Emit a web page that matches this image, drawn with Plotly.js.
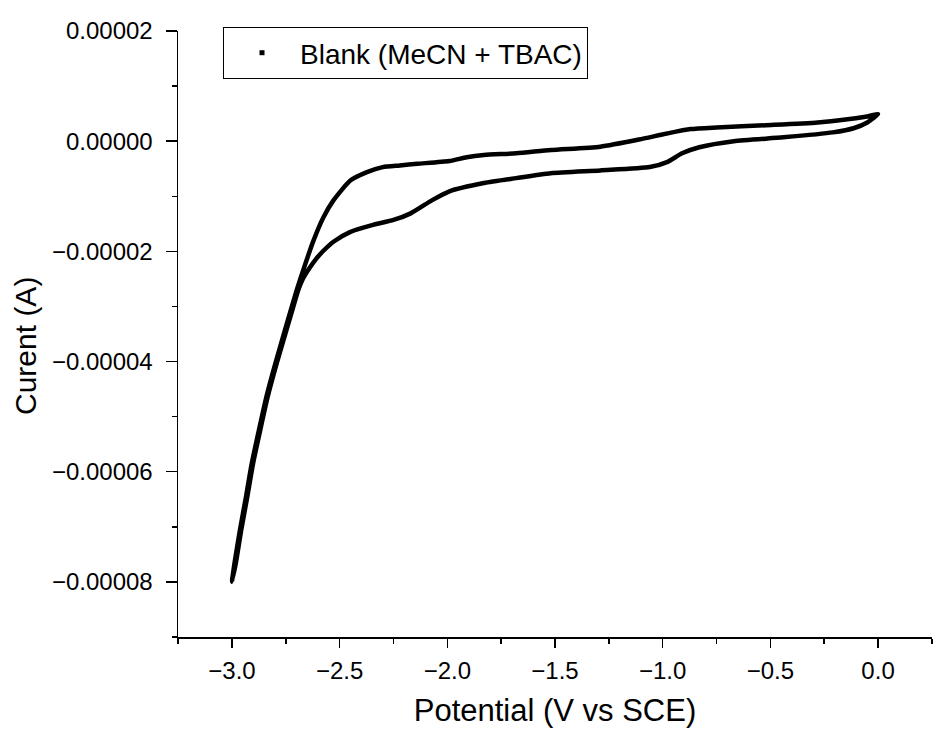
<!DOCTYPE html>
<html>
<head>
<meta charset="utf-8">
<script src="https://cdn.plot.ly/plotly-3.0.1.min.js"></script>
<style>html,body{margin:0;padding:0;background:#fff;}#chart{width:937px;height:742px;}</style>
</head>
<body>
<div id="chart"></div>
<script>
// Cathodic sweep (0 V -> -3 V), potential in V vs SCE
const cathodicV = [0.0, -0.05, -0.28, -0.52, -0.75, -0.87, -0.98, -1.11, -1.29, -1.52, -1.68, -1.83, -1.91, -1.99, -2.14, -2.22, -2.30, -2.373, -2.449, -2.528, -2.575, -2.621, -2.669, -2.699, -2.754, -2.798, -2.840, -2.875, -2.908, -2.935, -2.963, -2.988, -3.0];
// Current in A
const cathodicI = [4.9e-6, 4.5e-6, 3.4e-6, 2.9e-6, 2.5e-6, 2.2e-6, 1.4e-6, 0.3e-6, -1.0e-6, -1.6e-6, -2.2e-6, -2.5e-6, -2.9e-6, -3.6e-6, -4.1e-6, -4.4e-6, -4.7e-6, -5.6e-6, -7.1e-6, -10.7e-6, -13.8e-6, -18.0e-6, -23.4e-6, -27.0e-6, -34.3e-6, -40.3e-6, -46.4e-6, -52.5e-6, -58.5e-6, -64.6e-6, -70.6e-6, -76.6e-6, -80.0e-6];
// Anodic sweep (-3 V -> 0 V)
const anodicV = [-2.982, -2.957, -2.929, -2.902, -2.869, -2.834, -2.792, -2.747, -2.717, -2.692, -2.671, -2.643, -2.610, -2.573, -2.527, -2.452, -2.345, -2.25, -2.17, -2.07, -1.99, -1.83, -1.68, -1.52, -1.29, -1.06, -0.98, -0.91, -0.83, -0.67, -0.44, -0.21, -0.11, -0.05, 0.0];
const anodicI = [-76.6e-6, -70.6e-6, -64.6e-6, -58.5e-6, -52.5e-6, -46.4e-6, -40.3e-6, -34.3e-6, -30.3e-6, -27.0e-6, -25.0e-6, -23.2e-6, -21.4e-6, -19.8e-6, -18.2e-6, -16.5e-6, -15.2e-6, -14.3e-6, -13.1e-6, -10.7e-6, -9.1e-6, -7.6e-6, -6.7e-6, -5.8e-6, -5.3e-6, -4.7e-6, -3.8e-6, -2.2e-6, -1.1e-6, 0.0, 0.7e-6, 1.6e-6, 2.4e-6, 3.4e-6, 4.9e-6];

const seriesName = 'Blank (MeCN + TBAC)';
const xTitle = 'Potential (V vs SCE)';
const yTitle = 'Curent (A)';

const FONT = 'Liberation Sans, Arial, sans-serif';

const traces = [
  {
    x: cathodicV.concat(anodicV),
    y: cathodicI.concat(anodicI),
    mode: 'lines',
    line: {color: '#000', width: 4.5, shape: 'spline', smoothing: 0.6},
    showlegend: false,
    hoverinfo: 'skip'
  },
  {
    x: [null], y: [null],
    mode: 'markers',
    marker: {symbol: 'square', size: 5, color: '#000'},
    name: seriesName,
    showlegend: true
  }
];

const layout = {
  width: 937, height: 742,
  margin: {l: 178, r: 5, t: 31, b: 105},
  paper_bgcolor: '#fff', plot_bgcolor: '#fff',
  font: {family: FONT, color: '#000'},
  showlegend: true,
  legend: {
    x: 0.0597, y: 1.0066, xanchor: 'left', yanchor: 'top',
    bordercolor: '#000', borderwidth: 1, bgcolor: '#fff',
    font: {family: FONT, size: 28, color: '#000'},
    itemwidth: 66
  },
  xaxis: {
    range: [-3.2505, 0.2505],
    showgrid: false, zeroline: false,
    showline: true, linecolor: '#000', linewidth: 1.5,
    ticks: 'outside', ticklen: 9, tickwidth: 1.5, tickcolor: '#000',
    ticklabelstandoff: 3,
    dtick: 0.5, tick0: 0, tickformat: '.1f',
    tickfont: {family: FONT, size: 24, color: '#000'},
    minor: {ticks: 'outside', ticklen: 5, tickwidth: 1.5, tickcolor: '#000', dtick: 0.25, tick0: 0, showgrid: false},
    title: {text: xTitle, font: {family: FONT, size: 31, color: '#000'}, standoff: 16}
  },
  yaxis: {
    range: [-9.0005e-5, 2.0005e-5],
    showgrid: false, zeroline: false,
    showline: true, linecolor: '#000', linewidth: 1.5,
    ticks: 'outside', ticklen: 11, tickwidth: 1.5, tickcolor: '#000',
    ticklabelstandoff: 8,
    dtick: 2e-5, tick0: 0, tickformat: '.5f',
    tickfont: {family: FONT, size: 24, color: '#000'},
    minor: {ticks: 'outside', ticklen: 5, tickwidth: 1.5, tickcolor: '#000', dtick: 1e-5, tick0: 0, showgrid: false}
  },
  annotations: [{
    text: yTitle, xref: 'paper', yref: 'paper',
    x: (25 - 178) / 754, y: 1 - (346 - 31) / 606,
    xanchor: 'center', yanchor: 'middle', textangle: -90, showarrow: false,
    font: {family: FONT, size: 30, color: '#000'}
  }]
};

Plotly.newPlot('chart', traces, layout, {staticPlot: true, displayModeBar: false});
</script>
</body>
</html>
